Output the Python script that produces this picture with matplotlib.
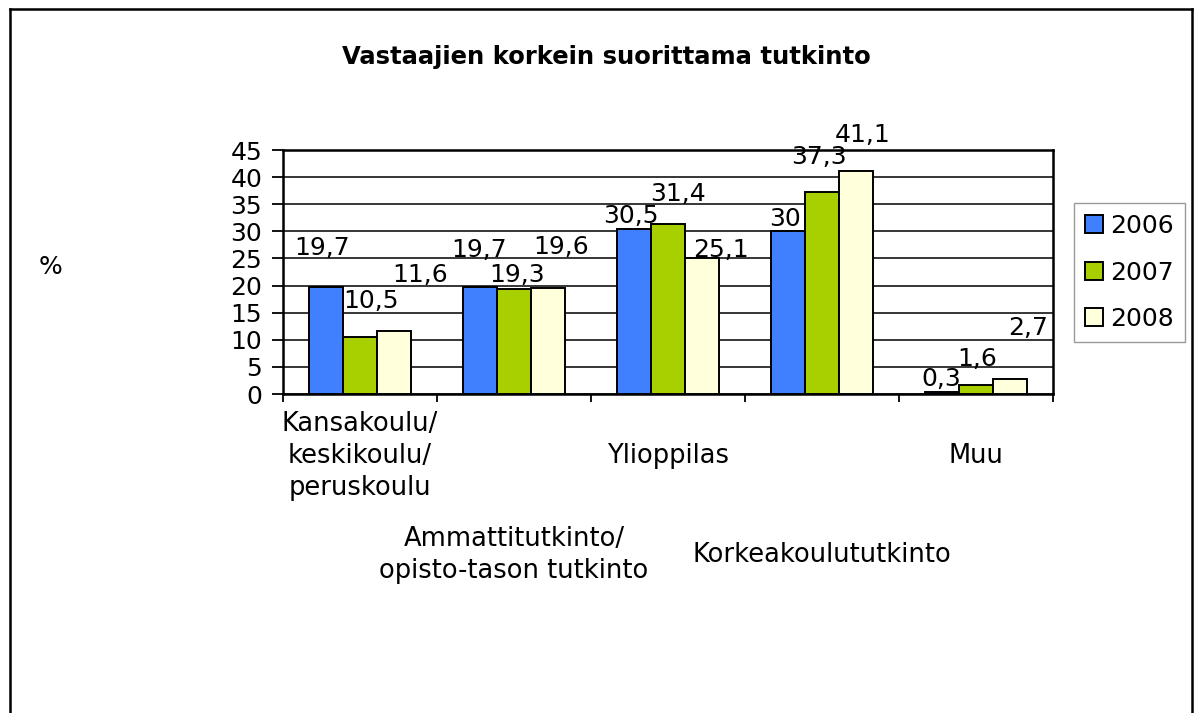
import numpy as np
import matplotlib
matplotlib.use('Agg')
import matplotlib.pyplot as plt
from matplotlib.lines import Line2D

plt.rcParams['font.family'] = ['DejaVu Sans']

# data
categories = ['Kansakoulu/\nkeskikoulu/\nperuskoulu',
              'Ammattitutkinto/\nopisto-tason tutkinto',
              'Ylioppilas',
              'Korkeakoulututkinto',
              'Muu']
years = ['2006', '2007', '2008']
v2006 = [19.7, 19.7, 30.5, 30.0, 0.3]
v2007 = [10.5, 19.3, 31.4, 37.3, 1.6]
v2008 = [11.6, 19.6, 25.1, 41.1, 2.7]
colors = ['#4080FF', '#A8D000', '#FFFFDC']

# label offsets (pixels, from bar top centre to label centre) as in the original chart
label_off = [
    [(-4, 42), (11, 39), (26, 59)],
    [(-1, 40), (3, 17), (13, 44)],
    [(-3, 16), (10, 33), (19, 11)],
    [(-3, 15), (-3, 38), (6, 39)],
    [(-1, 16), (1, 29), (18, 54)],
]

W, H = 1195, 713
fig = plt.figure(figsize=(W / 100, H / 100), dpi=100)
ax = fig.add_axes([283 / W, 1 - 394 / H, (1053 - 283) / W, (394 - 150) / H])

x = np.arange(len(categories))
w = 1 / 4.5
series = [v2006, v2007, v2008]
for j, vals in enumerate(series):
    bars = ax.bar(x + (j - 1) * w, vals, w, color=colors[j], edgecolor='black',
                  linewidth=1.4, label=years[j], zorder=3)
    for i, b in enumerate(bars):
        dx, dy = label_off[i][j]
        txt = ('%g' % vals[i]).replace('.', ',')
        ax.annotate(txt, (b.get_x() + b.get_width() / 2, b.get_height()),
                    xytext=(dx, dy - 10), textcoords='offset pixels',
                    ha='center', va='baseline', fontsize=18, zorder=4)

ax.set_xlim(-0.5, len(categories) - 0.5)
ax.set_ylim(0, 45)
ax.set_yticks(np.arange(0, 46, 5))
ax.yaxis.grid(True, color='black', linewidth=1.1)
ax.set_axisbelow(True)
ax.tick_params(axis='y', direction='out', length=8, width=1.3, pad=7, labelsize=18)
ax.set_xticks([])
ax.set_xticks(np.arange(-0.5, len(categories), 1), minor=True)
ax.tick_params(axis='x', which='minor', direction='out', length=6, width=1.3)
for s in ax.spines.values():
    s.set_linewidth(1.8)
    s.set_color('black')

# staggered category labels
tr = ax.get_xaxis_transform()
ax_h = 394 - 150
for i, c in enumerate(categories):
    yc = 456 if i % 2 == 0 else 555
    ax.text(i, -(yc - 394) / ax_h, c, transform=tr, ha='center', va='center',
            fontsize=18.5, linespacing=1.32)

fig.text(606 / W, 1 - 64 / H, 'Vastaajien korkein suorittama tutkinto',
         ha='center', va='baseline', fontsize=17.5, fontweight='bold')
fig.text(50 / W, 1 - 267 / H, '%', ha='center', va='center', fontsize=18)

leg = ax.legend(loc='center', bbox_to_anchor=(1129.5 / W, 1 - 272.5 / H),
                bbox_transform=fig.transFigure, fontsize=18, frameon=True,
                fancybox=False, shadow=False, handlelength=0.72, handleheight=0.72,
                handletextpad=0.3, labelspacing=0.9, borderpad=0.45)
leg.get_frame().set_edgecolor('#808080')
leg.get_frame().set_linewidth(1.0)

# chart area border (left, top, right)
lw = 1.8
fig.add_artist(Line2D([9.5 / W, 9.5 / W], [0, 1 - 8.5 / H], color='black', lw=lw))
fig.add_artist(Line2D([9.5 / W, 1191.5 / W], [1 - 8.5 / H, 1 - 8.5 / H], color='black', lw=lw))
fig.add_artist(Line2D([1191.5 / W, 1191.5 / W], [0, 1 - 8.5 / H], color='black', lw=lw))

plt.savefig('out.png', dpi=100)
plt.close()
